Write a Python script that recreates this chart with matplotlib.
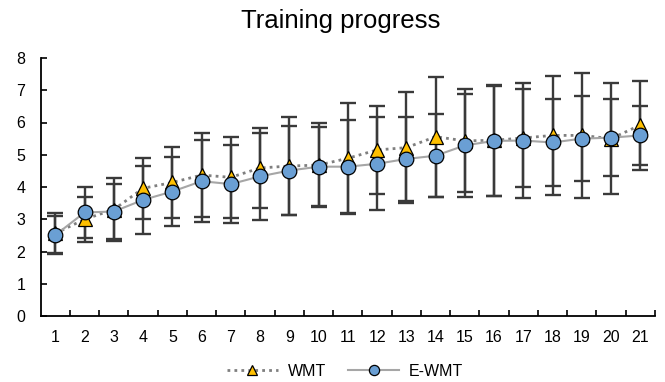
import matplotlib
matplotlib.use("Agg")
import matplotlib.pyplot as plt
from matplotlib.ticker import FixedLocator

plt.rcParams['font.family'] = ['Liberation Sans', 'DejaVu Sans']

sessions = list(range(1, 22))
wmt_mean = [2.56, 3.00, 3.30, 3.96, 4.14, 4.37, 4.30, 4.59, 4.65, 4.68, 4.89,
            5.15, 5.22, 5.56, 5.43, 5.45, 5.52, 5.60, 5.60, 5.50, 5.92]
wmt_sd = [0.62, 0.70, 0.97, 0.95, 1.10, 1.31, 1.26, 1.25, 1.51, 1.31, 1.70,
          1.36, 1.72, 1.86, 1.60, 1.72, 1.51, 1.84, 1.93, 1.72, 1.38]
ewmt_mean = [2.51, 3.21, 3.24, 3.60, 3.86, 4.18, 4.09, 4.33, 4.51, 4.63, 4.63,
             4.72, 4.87, 4.97, 5.29, 5.43, 5.44, 5.38, 5.50, 5.53, 5.60]
ewmt_sd = [0.58, 0.78, 0.85, 1.06, 1.08, 1.28, 1.21, 1.34, 1.38, 1.22, 1.46,
           1.44, 1.31, 1.28, 1.59, 1.70, 1.77, 1.35, 1.32, 1.20, 0.92]
labels = ["WMT", "E-WMT"]
title = "Training progress"

fig = plt.figure(figsize=(6.65, 3.82), dpi=100)
ax = fig.add_axes([40.7/665, 1-316/382, (655-40.7)/665, (316-58)/382])

err_color = '#3a3a3a'
ax.errorbar(sessions, wmt_mean, yerr=wmt_sd, fmt='none', ecolor=err_color,
            elinewidth=1.7, capsize=5.5, capthick=1.7, zorder=1)
ax.errorbar(sessions, ewmt_mean, yerr=ewmt_sd, fmt='none', ecolor=err_color,
            elinewidth=1.7, capsize=5.5, capthick=1.7, zorder=1)

ax.plot(sessions, wmt_mean, linestyle=(0, (1, 1.5)), color='#7f7f7f', linewidth=2.0,
        marker='^', markersize=10.5, markerfacecolor='#FFC000', markeredgecolor='black',
        markeredgewidth=0.9, zorder=3, label=labels[0])
ax.plot(sessions, ewmt_mean, linestyle='-', color='#a6a6a6', linewidth=1.5,
        marker='o', markersize=10.5, markerfacecolor='#6A9FD4', markeredgecolor='black',
        markeredgewidth=0.9, zorder=4, label=labels[1])

ax.set_xlim(0.5, 21.5)
ax.set_ylim(0, 8)
ax.set_xticks(sessions)
ax.xaxis.set_minor_locator(FixedLocator([i + 0.5 for i in range(1, 22)]))
ax.tick_params(axis='x', which='major', length=0, pad=10, labelsize=11.5)
ax.tick_params(axis='x', which='minor', direction='in', length=4, width=1.2)
ax.set_yticks(range(0, 9))
ax.tick_params(axis='y', direction='in', length=4, width=1.2, pad=11, labelsize=11.5)

for s in ['top', 'right']:
    ax.spines[s].set_visible(False)
for s in ['left', 'bottom']:
    ax.spines[s].set_linewidth(1.3)

fig.text(341/665, 1-28/382, title, ha='center', va='baseline', fontsize=18.5)

leg = fig.legend(loc='center', bbox_to_anchor=(345/665, 1-371/382), ncol=2,
                 frameon=False, fontsize=11.5, markerscale=0.7,
                 handlelength=3.2, columnspacing=1.4, handletextpad=0.6)

fig.savefig('out.png', dpi=100)
